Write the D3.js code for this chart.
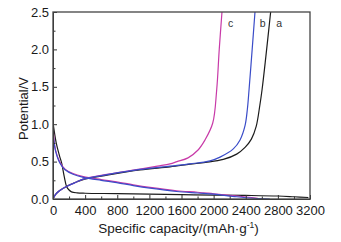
<!DOCTYPE html>
<html>
<head>
<meta charset="utf-8">
<script src="https://cdn.jsdelivr.net/npm/d3@7"></script>
<style>
  html, body { margin: 0; padding: 0; background: #fff; }
  svg { display: block; font-family: "Liberation Sans", Arial, sans-serif; }
</style>
</head>
<body>
<div id="wrapper"></div>
<script>
'use strict';

// data - [capacity mAh/g, potential V]
const aDischarge = [[0, 1.02], [40, 0.75], [80, 0.58], [108, 0.48], [140, 0.3], [170, 0.165], [200, 0.12], [230, 0.095],
  [300, 0.082], [400, 0.077], [800, 0.072], [1200, 0.065], [1600, 0.058], [2000, 0.053], [2400, 0.048],
  [2800, 0.04], [3000, 0.03], [3180, 0.02]];
const aCharge = [[0, 0], [30, 0.06], [80, 0.11], [174, 0.17], [300, 0.23], [374, 0.26], [672, 0.32], [1083, 0.39],
  [1457, 0.43], [1706, 0.465], [1900, 0.49], [2121, 0.53], [2287, 0.6], [2391, 0.69], [2470, 0.8],
  [2530, 0.97], [2575, 1.25], [2603, 1.46], [2650, 1.9], [2710, 2.5]];
const bDischarge = [[0, 2.5], [0, 1.0], [5, 0.83], [30, 0.65], [87, 0.477], [150, 0.39], [250, 0.33], [378, 0.29],
  [600, 0.25], [793, 0.22], [1000, 0.18], [1208, 0.145], [1540, 0.1], [1800, 0.08], [2000, 0.065],
  [2287, 0.03], [2500, 0.01], [2700, 0.0]];
const bCharge = [[0, 0], [30, 0.06], [80, 0.11], [174, 0.17], [300, 0.23], [374, 0.265], [672, 0.325], [1083, 0.395],
  [1457, 0.44], [1706, 0.47], [1955, 0.51], [2080, 0.56], [2245, 0.67], [2329, 0.79], [2391, 0.98],
  [2420, 1.2], [2441, 1.46], [2480, 2.0], [2515, 2.5]];
const cDischarge = [[0, 1.0], [30, 0.66], [87, 0.49], [150, 0.4], [250, 0.34], [378, 0.3], [600, 0.26], [793, 0.23],
  [1000, 0.19], [1208, 0.155], [1540, 0.11], [1800, 0.09], [2000, 0.07], [2300, 0.04], [2550, 0.01]];
const cCharge = [[0, 0], [30, 0.06], [80, 0.11], [174, 0.17], [300, 0.23], [374, 0.265], [672, 0.33], [1083, 0.4],
  [1300, 0.44], [1457, 0.47], [1544, 0.5], [1681, 0.55], [1806, 0.655], [1893, 0.79], [1989, 1.016],
  [2038, 1.457], [2070, 2.0], [2104, 2.5]];

const seriesNames = ['c', 'b', 'a'];
const labelPositions = [[2180, 2.3], [2575, 2.3], [2780, 2.3]];

const xTicks = d3.range(0, 3201, 400);
const yTicks = [0, 0.5, 1.0, 1.5, 2.0, 2.5];

const colors = { a: '#1c1c1c', b: '#3a4cc8', c: '#c83aa8' };

function drawChart () {
  const dimensions = {
    width: 341,
    height: 242,
    margin: { top: 12, right: 31, bottom: 43, left: 53 },
  };
  dimensions.boundedWidth = dimensions.width - dimensions.margin.left - dimensions.margin.right;
  dimensions.boundedHeight = dimensions.height - dimensions.margin.top - dimensions.margin.bottom;

  const xScale = d3.scaleLinear().domain([0, 3200]).range([0, dimensions.boundedWidth]);
  const yScale = d3.scaleLinear().domain([0, 2.5]).range([dimensions.boundedHeight, 0]);

  const wrapper = d3.select('#wrapper').append('svg')
    .attr('width', dimensions.width)
    .attr('height', dimensions.height);

  const bounds = wrapper.append('g')
    .attr('transform', `translate(${dimensions.margin.left},${dimensions.margin.top})`);

  bounds.append('clipPath').attr('id', 'plot-clip')
    .append('rect')
    .attr('width', dimensions.boundedWidth)
    .attr('height', dimensions.boundedHeight + 1);

  const lineGenerator = d3.line()
    .x(d => xScale(d[0]))
    .y(d => yScale(d[1]))
    .curve(d3.curveCatmullRom.alpha(0.5));

  const curves = [
    { name: 'a', data: aDischarge },
    { name: 'a', data: aCharge },
    { name: 'c', data: cDischarge },
    { name: 'c', data: cCharge },
    { name: 'b', data: bDischarge },
    { name: 'b', data: bCharge },
  ];

  bounds.append('g').attr('clip-path', 'url(#plot-clip)')
    .selectAll('path')
    .data(curves)
    .join('path')
    .attr('d', d => lineGenerator(d.data))
    .attr('fill', 'none')
    .attr('stroke', d => colors[d.name])
    .attr('stroke-width', 1.2);

  // minor ticks (inside)
  const xMinor = d3.range(200, 3200, 400);
  const yMinor = d3.range(0.25, 2.5, 0.5);

  const xAxis = bounds.append('g')
    .attr('transform', `translate(0,${dimensions.boundedHeight})`)
    .call(d3.axisBottom(xScale).tickValues(xTicks).tickFormat(d3.format('d')).tickSizeInner(-4).tickSizeOuter(0).tickPadding(7));
  bounds.append('g')
    .attr('transform', `translate(0,${dimensions.boundedHeight})`)
    .call(d3.axisBottom(xScale).tickValues(xMinor).tickFormat('').tickSizeInner(-2.5).tickSizeOuter(0))
    .call(g => g.select('.domain').remove());

  bounds.append('g')
    .call(d3.axisLeft(yScale).tickValues(yTicks).tickFormat(d3.format('.1f')).tickSizeInner(-4).tickSizeOuter(0).tickPadding(4));
  bounds.append('g')
    .call(d3.axisLeft(yScale).tickValues(yMinor).tickFormat('').tickSizeInner(-2.5).tickSizeOuter(0))
    .call(g => g.select('.domain').remove());

  bounds.selectAll('.tick line').attr('stroke', '#333');
  bounds.selectAll('.domain').attr('stroke', '#333');
  bounds.selectAll('.tick text')
    .attr('fill', '#1a1a1a')
    .style('font-size', '13px');
  xAxis.selectAll('.tick text').attr('dy', '0.71em');

  // frame
  bounds.append('rect')
    .attr('width', dimensions.boundedWidth)
    .attr('height', dimensions.boundedHeight)
    .attr('fill', 'none')
    .attr('stroke', '#444')
    .attr('stroke-width', 1.3);

  // curve labels
  bounds.selectAll('.curve-label')
    .data(seriesNames)
    .join('text')
    .attr('class', 'curve-label')
    .attr('x', (d, i) => xScale(labelPositions[i][0]))
    .attr('y', (d, i) => yScale(labelPositions[i][1]))
    .attr('fill', '#333')
    .style('font-size', '10.5px')
    .text(d => d);

  // axis titles
  wrapper.append('text')
    .attr('x', dimensions.margin.left + dimensions.boundedWidth / 2 - 3)
    .attr('y', 233)
    .attr('text-anchor', 'middle')
    .attr('fill', '#1a1a1a')
    .style('font-size', '13.5px')
    .html('Specific capacity/(mAh·g<tspan dy="-5" font-size="8.5px">-1</tspan><tspan dy="5">)</tspan>');

  wrapper.append('text')
    .attr('transform', `translate(28,${dimensions.margin.top + dimensions.boundedHeight / 2 + 3}) rotate(-90)`)
    .attr('text-anchor', 'middle')
    .attr('fill', '#1a1a1a')
    .style('font-size', '13px')
    .text('Potential/V');
}

drawChart();
</script>
</body>
</html>
